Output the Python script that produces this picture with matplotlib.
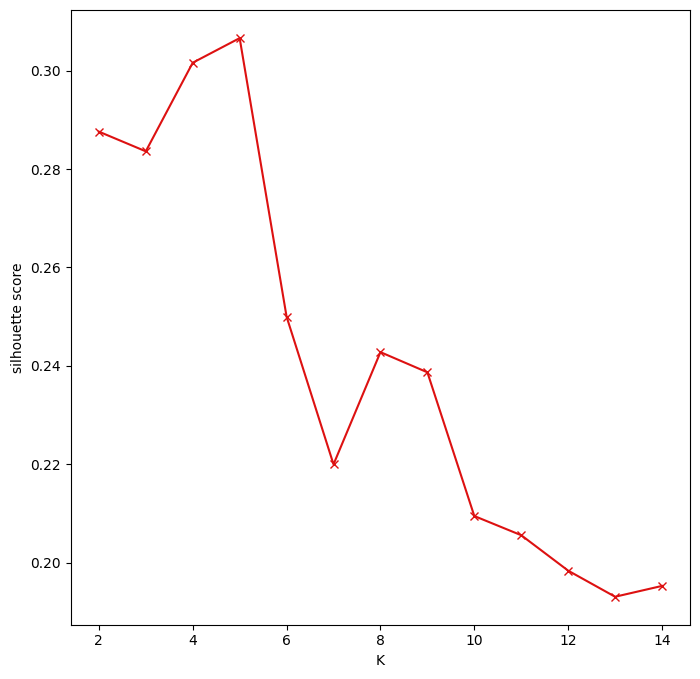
import numpy as np
import matplotlib
matplotlib.use("Agg")
import matplotlib.pyplot as plt

K = [2, 3, 4, 5, 6, 7, 8, 9, 10, 11, 12, 13, 14]
silhouette = [0.2876, 0.2836, 0.3016, 0.3066, 0.2500, 0.2200,
              0.2428, 0.2387, 0.2095, 0.2056, 0.1984, 0.1931, 0.1953]

fig = plt.figure(figsize=(7, 6.79), dpi=100)
ax = fig.add_subplot(1, 1, 1)
fig.subplots_adjust(left=0.101, right=0.986, top=0.985, bottom=0.080)

ax.plot(K, silhouette, 'x-', color='#dd1111')
ax.set_xlabel('K')
ax.set_ylabel('silhouette score')
ax.set_xticks(np.arange(2, 15, 2))

fig.savefig('out.png', dpi=100)
